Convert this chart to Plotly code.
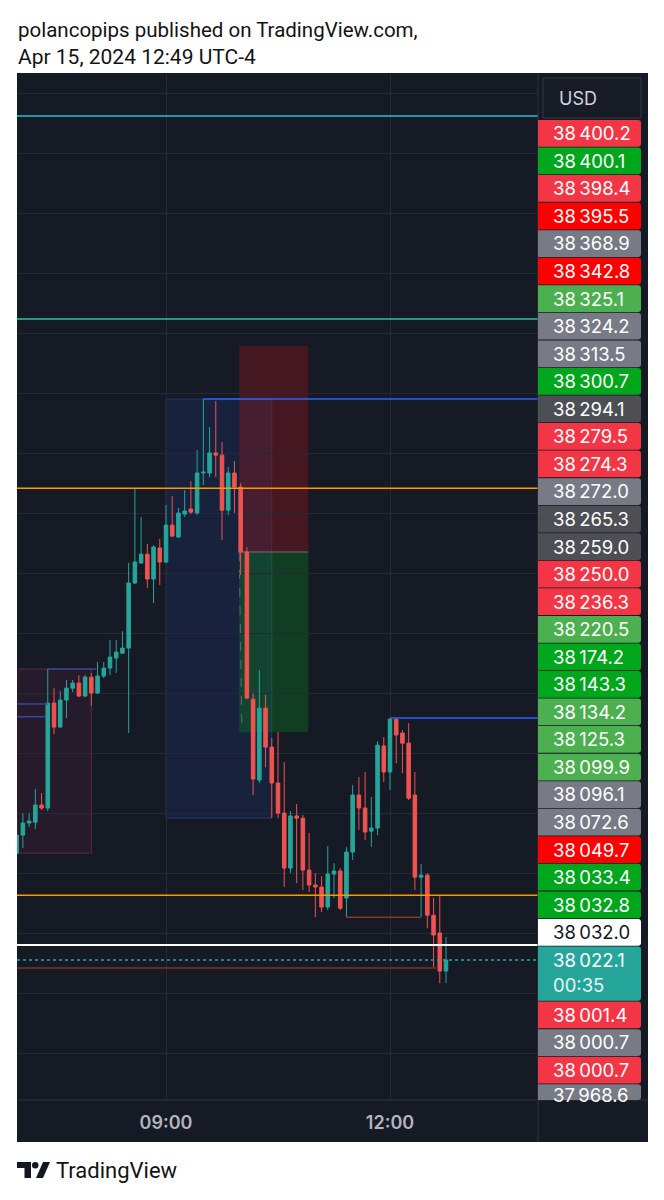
import plotly.graph_objects as go
import pandas as pd

W, H = 664, 1200

# ---------------- data ----------------
times = pd.date_range("2024-04-15 07:00", periods=70, freq="5min")

opens = [
    38070.7, 38078.9, 38084.4, 38084.8, 38092.6, 38091.2, 38138.9, 38128.0, 38140.3, 38145.7,
    38148.0, 38142.1, 38150.7, 38143.5, 38151.2, 38154.8, 38159.4, 38161.6, 38163.9, 38193.5,
    38202.6, 38206.6, 38195.3, 38209.4, 38203.0, 38219.8, 38214.4, 38224.8, 38227.1, 38225.3,
    38243.5, 38243.5, 38252.6, 38251.6, 38226.6, 38243.5, 38237.1, 38207.6, 38140.7, 38103.9,
    38136.6, 38118.9, 38102.6, 38088.9, 38063.9, 38087.6, 38086.6, 38063.0, 38056.2, 38055.3,
    38046.2, 38061.2, 38062.6, 38050.3, 38071.2, 38097.1, 38091.2, 38080.7, 38082.1, 38119.4,
    38107.6, 38131.6, 38125.3, 38120.7, 38097.1, 38059.8, 38060.7, 38042.5, 38034.4, 38017.1]

highs = [
    38087.1, 38088.9, 38088.9, 38099.8, 38098.0, 38154.4, 38145.7, 38144.4, 38149.4, 38149.4,
    38151.6, 38151.6, 38152.6, 38157.6, 38157.6, 38167.6, 38167.6, 38171.6, 38202.6, 38236.6,
    38223.5, 38211.2, 38210.7, 38213.5, 38228.9, 38233.0, 38227.6, 38235.7, 38239.8, 38253.9,
    38277.1, 38264.4, 38276.2, 38257.6, 38246.2, 38248.9, 38238.9, 38209.8, 38143.5, 38153.9,
    38142.6, 38123.0, 38125.7, 38112.1, 38089.8, 38093.0, 38088.0, 38079.8, 38061.6, 38060.3,
    38073.9, 38066.2, 38063.9, 38073.5, 38101.6, 38105.3, 38107.6, 38096.2, 38121.6, 38123.5,
    38132.1, 38132.1, 38126.6, 38129.8, 38107.6, 38065.7, 38061.6, 38050.3, 38051.6, 38032.6]

lows = [
    38069.8, 38073.0, 38082.6, 38081.6, 38090.3, 38089.8, 38124.8, 38127.6, 38132.1, 38143.9,
    38141.6, 38141.6, 38137.6, 38143.0, 38150.3, 38151.6, 38152.6, 38161.2, 38125.3, 38193.0,
    38202.1, 38191.2, 38184.4, 38192.6, 38202.6, 38214.4, 38213.9, 38223.5, 38224.8, 38224.4,
    38238.0, 38241.6, 38241.6, 38213.0, 38224.4, 38225.3, 38197.1, 38140.7, 38097.1, 38102.6,
    38109.8, 38086.6, 38086.6, 38055.3, 38061.6, 38057.1, 38053.9, 38053.0, 38041.6, 38043.9,
    38044.8, 38050.3, 38044.8, 38041.6, 38067.6, 38081.2, 38076.6, 38073.5, 38078.9, 38103.0,
    38099.4, 38111.6, 38107.1, 38094.8, 38053.9, 38041.6, 38036.6, 38018.9, 38011.6, 38011.6]

closes = [
    38078.9, 38084.4, 38085.3, 38092.6, 38091.2, 38138.9, 38128.0, 38140.3, 38145.7, 38148.0,
    38142.1, 38150.7, 38143.5, 38151.2, 38154.8, 38159.8, 38162.1, 38163.9, 38193.5, 38203.0,
    38206.6, 38195.3, 38209.8, 38203.0, 38219.8, 38214.8, 38225.3, 38226.2, 38225.7, 38243.5,
    38243.9, 38252.6, 38251.6, 38226.6, 38243.5, 38237.1, 38207.6, 38141.2, 38104.4, 38136.6,
    38118.9, 38102.6, 38088.9, 38063.9, 38087.6, 38086.6, 38063.0, 38056.2, 38055.3, 38046.2,
    38061.2, 38062.6, 38045.7, 38071.2, 38097.1, 38091.2, 38080.3, 38082.1, 38119.8, 38107.6,
    38131.6, 38124.4, 38120.7, 38095.7, 38059.8, 38060.7, 38042.5, 38033.5, 38017.1, 38022.1]

# price-scale labels (stacked on the right axis), top to bottom
label_values = ["38400.2", "38400.1", "38398.4", "38395.5", "38368.9", "38342.8", "38325.1",
                "38324.2", "38313.5", "38300.7", "38294.1", "38279.5", "38274.3", "38272.0",
                "38265.3", "38259.0", "38250.0", "38236.3", "38220.5", "38174.2", "38143.3",
                "38134.2", "38125.3", "38099.9", "38096.1", "38072.6", "38049.7", "38033.4",
                "38032.8", "38032.0", "38022.1", "38001.4", "38000.7", "38000.7", "37968.6"]
label_kinds = ["pink", "green", "pink", "red", "gray", "red", "lgreen",
               "gray", "gray", "green", "dgray", "pink", "pink", "gray",
               "dgray", "dgray", "pink", "pink", "lgreen", "green", "green",
               "lgreen", "lgreen", "lgreen", "gray", "gray", "red", "green",
               "green", "white", "teal", "pink", "gray", "pink", "gray"]
countdown = "00:35"

# time axis ticks
tick_times = ["2024-04-15 09:00", "2024-04-15 12:00"]
tick_text = ["09:00", "12:00"]
x_range = ["2024-04-15 07:00:16", "2024-04-15 13:58:56"]

# price grid lines and visible price range
grid_prices = [38416.1, 38388.8, 38361.5, 38334.2, 38307.0, 38279.7, 38252.4, 38225.1,
               38197.9, 38170.6, 38143.3, 38116.1, 38088.8, 38061.5, 38034.2, 38007.0, 37979.7]
y_range = [37958.5, 38425.3]

# drawings (prices)
cyan_level = 38405.7
teal_level = 38313.5
swing_high = 38277.1
swing_high_time = "2024-04-15 09:30"
orange_high = 38236.6
orange_low = 38051.6
white_level = 38028.9
last_price = 38022.1
dark_red_level = 38018.5
dark_red_end = "2024-04-15 12:37"
mid_red_level = 38041.6
mid_red_span = ["2024-04-15 11:25", "2024-04-15 12:25"]
blue2_level = 38132.1
blue2_time = "2024-04-15 12:00"
blue_box = dict(t0="2024-04-15 09:00", t1="2024-04-15 10:25", top=38277.1, bottom=38086.6)
pos_tool = dict(t0="2024-04-15 09:58:50", t1="2024-04-15 10:54:20",
                stop=38301.2, entry=38207.6, target=38125.7)
left_box = dict(t0="2024-04-15 06:40", t1="2024-04-15 08:00", top=38154.4, bottom=38070.7)
left_box_line = dict(t0="2024-04-15 07:25", t1="2024-04-15 08:04", level=38154.4)
left_blue_a = dict(t1="2024-04-15 07:25", level=38138.5)
left_blue_b = dict(t1="2024-04-15 07:23", level=38132.7)

# ---------------- style ----------------
BG = "#161a25"
GRID = "#252935"
SEP = "#2e323e"
UP = "#26a69a"
DN = "#ef5350"
label_colors = {"pink": "#f23645", "green": "#00a61c", "red": "#ff0000", "gray": "#787b86",
                "lgreen": "#4caf50", "dgray": "#4d4f55", "white": "#ffffff", "teal": "#26a69a"}


def px(x):
    return x / W


def py(y):
    return 1 - y / H


X0, X1 = 17, 538       # plot area (px)
Y0, Y1 = 73, 1100
RIGHT = 648
BOTTOM = 1142

fig = go.Figure()
fig.add_trace(go.Candlestick(
    x=times, open=opens, high=highs, low=lows, close=closes,
    increasing=dict(line=dict(color=UP, width=1), fillcolor=UP),
    decreasing=dict(line=dict(color=DN, width=1), fillcolor=DN),
    whiskerwidth=0, showlegend=False, hoverinfo="skip"))

shapes = []
# dark panels outside the plot area
shapes.append(dict(type="rect", xref="paper", yref="paper", x0=px(X1), x1=px(RIGHT),
                   y0=py(BOTTOM), y1=py(Y0), fillcolor=BG, line_width=0, layer="below"))
shapes.append(dict(type="rect", xref="paper", yref="paper", x0=px(X0), x1=px(X1),
                   y0=py(BOTTOM), y1=py(Y1), fillcolor=BG, line_width=0, layer="below"))

# boxes (behind candles)
shapes.append(dict(type="rect", xref="x", yref="y", x0=left_box["t0"], x1=left_box["t1"],
                   y0=left_box["bottom"], y1=left_box["top"],
                   fillcolor="rgba(150,40,80,0.12)", line=dict(color="rgba(170,60,80,0.45)", width=1),
                   layer="below"))
shapes.append(dict(type="rect", xref="x", yref="y", x0=blue_box["t0"], x1=blue_box["t1"],
                   y0=blue_box["bottom"], y1=blue_box["top"],
                   fillcolor="rgba(41,98,255,0.11)", line=dict(color="rgba(70,100,200,0.35)", width=1),
                   layer="below"))
shapes.append(dict(type="rect", xref="x", yref="y", x0=pos_tool["t0"], x1=pos_tool["t1"],
                   y0=pos_tool["entry"], y1=pos_tool["stop"],
                   fillcolor="rgba(150,20,30,0.38)", line_width=0, layer="below"))
shapes.append(dict(type="rect", xref="x", yref="y", x0=pos_tool["t0"], x1=pos_tool["t1"],
                   y0=pos_tool["target"], y1=pos_tool["entry"],
                   fillcolor="rgba(10,140,30,0.32)", line_width=0, layer="below"))
shapes.append(dict(type="line", xref="x", yref="y", x0=pos_tool["t0"], x1=pos_tool["t1"],
                   y0=pos_tool["entry"], y1=pos_tool["entry"],
                   line=dict(color="rgba(140,140,140,0.7)", width=1), layer="below"))
shapes.append(dict(type="line", xref="x", yref="y", x0=pos_tool["t0"], x1="2024-04-15 10:01",
                   y0=pos_tool["entry"], y1=pos_tool["target"],
                   line=dict(color="rgba(170,170,170,0.45)", width=1, dash="dash"), layer="below"))

# horizontal drawings (above candles)
def hline(level, color, width=1.5, dash="solid", t0=None, t1=None):
    if t0 is None and t1 is None:
        return dict(type="line", xref="x domain", x0=0, x1=1, yref="y", y0=level, y1=level,
                    line=dict(color=color, width=width, dash=dash), layer="above")
    return dict(type="line", xref="x", x0=t0 if t0 else x_range[0], x1=t1 if t1 else x_range[1],
                yref="y", y0=level, y1=level, line=dict(color=color, width=width, dash=dash),
                layer="above")

shapes += [
    hline(cyan_level, "#22c3d6"),
    hline(teal_level, "#27c4a5"),
    hline(swing_high, "#2962ff", t0=swing_high_time),
    hline(orange_high, "#ff9800"),
    hline(orange_low, "#ff9800"),
    hline(blue2_level, "#2962ff", t0=blue2_time),
    hline(mid_red_level, "#8b3434", t0=mid_red_span[0], t1=mid_red_span[1]),
    hline(dark_red_level, "#7e3030", t1=dark_red_end),
    hline(white_level, "#ffffff", width=2),
    hline(last_price, UP, width=1.5, dash="dot"),
    hline(left_box_line["level"], "#3a45a0", t0=left_box_line["t0"], t1=left_box_line["t1"]),
    hline(left_blue_a["level"], "#3a45a0", t1=left_blue_a["t1"]),
    hline(left_blue_b["level"], "#3a45a0", t1=left_blue_b["t1"]),
]

# separators
shapes.append(dict(type="line", xref="paper", yref="paper", x0=px(X1), x1=px(X1),
                   y0=py(BOTTOM), y1=py(Y0), line=dict(color=SEP, width=1), layer="above"))
shapes.append(dict(type="line", xref="paper", yref="paper", x0=px(X0), x1=px(RIGHT),
                   y0=py(Y1), y1=py(Y1), line=dict(color=SEP, width=1), layer="above"))

# USD button
shapes.append(dict(type="rect", xref="paper", yref="paper", x0=px(543), x1=px(641),
                   y0=py(118), y1=py(78), fillcolor="#181c27",
                   line=dict(color="#353945", width=1), layer="above"))


def rounded(x0, x1, y0, y1, r=3):
    rx, ry = r / W, r / H
    X0p, X1p, Yt, Yb = px(x0), px(x1), py(y0), py(y1)
    return (f"M{X0p},{Yt} L{X1p-rx},{Yt} Q{X1p},{Yt} {X1p},{Yt-ry} "
            f"L{X1p},{Yb+ry} Q{X1p},{Yb} {X1p-rx},{Yb} L{X0p},{Yb} Z")


annotations = []
ROW = 27.55
TOP = 120.0
LX0, LX1 = 538, 641
for n, (val, kind) in enumerate(zip(label_values, label_kinds)):
    if n < 30:
        top = TOP + ROW * n
        bot = top + ROW - 0.8
    elif n == 30:
        top = TOP + ROW * n
        bot = top + 2 * ROW - 0.8
    else:
        top = TOP + ROW * (n + 1)
        bot = min(top + ROW - 0.8, Y1)
    col = label_colors[kind]
    shapes.append(dict(type="path", xref="paper", yref="paper", path=rounded(LX0, LX1, top, bot),
                       fillcolor=col, line_width=0, layer="above"))
    txt = val[:2] + "\u2009" + val[2:]
    tcol = "#131722" if kind == "white" else "#ffffff"
    cy = top + ROW / 2 - 0.5
    if n == 34:
        cy = top + 11
    annotations.append(dict(xref="paper", yref="paper", x=px(551), y=py(cy), xanchor="left",
                            yanchor="middle", text=txt, showarrow=False,
                            font=dict(family="Inter", size=18.5, color=tcol)))
    if n == 30:
        annotations.append(dict(xref="paper", yref="paper", x=px(551), y=py(cy + 25),
                                xanchor="left", yanchor="middle", text=countdown, showarrow=False,
                                font=dict(family="Inter", size=18.5, color="#e6f5f3")))

annotations.append(dict(xref="paper", yref="paper", x=px(557), y=py(98.5), xanchor="left",
                        yanchor="middle", text="USD", showarrow=False,
                        font=dict(family="Inter", size=18, color="#d1d4dc")))

# header and footer
annotations.append(dict(xref="paper", yref="paper", x=px(16), y=py(30), xanchor="left",
                        yanchor="middle", text="polancopips published on TradingView.com,",
                        showarrow=False, font=dict(family="Roboto", size=20.5, color="#131313")))
annotations.append(dict(xref="paper", yref="paper", x=px(16), y=py(57), xanchor="left",
                        yanchor="middle", text="Apr 15, 2024 12:49 UTC-4",
                        showarrow=False, font=dict(family="Roboto", size=21, color="#131313")))
annotations.append(dict(xref="paper", yref="paper", x=px(54), y=py(1170), xanchor="left",
                        yanchor="middle", text="TradingView",
                        showarrow=False, font=dict(family="Roboto", size=22, color="#131313")))

# TradingView logo
LOGO = "#131722"
shapes.append(dict(type="path", xref="paper", yref="paper",
                   path=(f"M{px(17)},{py(1162)} L{px(31)},{py(1162)} L{px(31)},{py(1178)} "
                         f"L{px(24.5)},{py(1178)} L{px(24.5)},{py(1168)} L{px(17)},{py(1168)} Z"),
                   fillcolor=LOGO, line_width=0))
shapes.append(dict(type="circle", xref="paper", yref="paper", x0=px(32), x1=px(38.5),
                   y0=py(1168.5), y1=py(1162), fillcolor=LOGO, line_width=0))
shapes.append(dict(type="path", xref="paper", yref="paper",
                   path=(f"M{px(36)},{py(1178)} L{px(43)},{py(1178)} L{px(50)},{py(1162)} "
                         f"L{px(43)},{py(1162)} Z"),
                   fillcolor=LOGO, line_width=0))

fig.update_layout(
    width=W, height=H,
    margin=dict(l=0, r=0, t=0, b=0),
    paper_bgcolor="#ffffff",
    plot_bgcolor=BG,
    boxgap=0.18,
    showlegend=False,
    shapes=shapes,
    annotations=annotations,
    xaxis=dict(domain=[px(X0), px(X1)], type="date", range=x_range,
               rangeslider=dict(visible=False),
               tickvals=tick_times, ticktext=tick_text, ticks="", ticklabelstandoff=10,
               tickfont=dict(family="Inter", size=18, color="#b2b5be", weight=600),
               showgrid=True, gridcolor=GRID, gridwidth=1, zeroline=False, showline=False,
               fixedrange=True),
    yaxis=dict(domain=[py(Y1), py(Y0)], range=y_range, tickvals=grid_prices,
               showticklabels=False, ticks="", showgrid=True, gridcolor=GRID, gridwidth=1,
               zeroline=False, showline=False, fixedrange=True),
)

fig.write_html("out.html")
